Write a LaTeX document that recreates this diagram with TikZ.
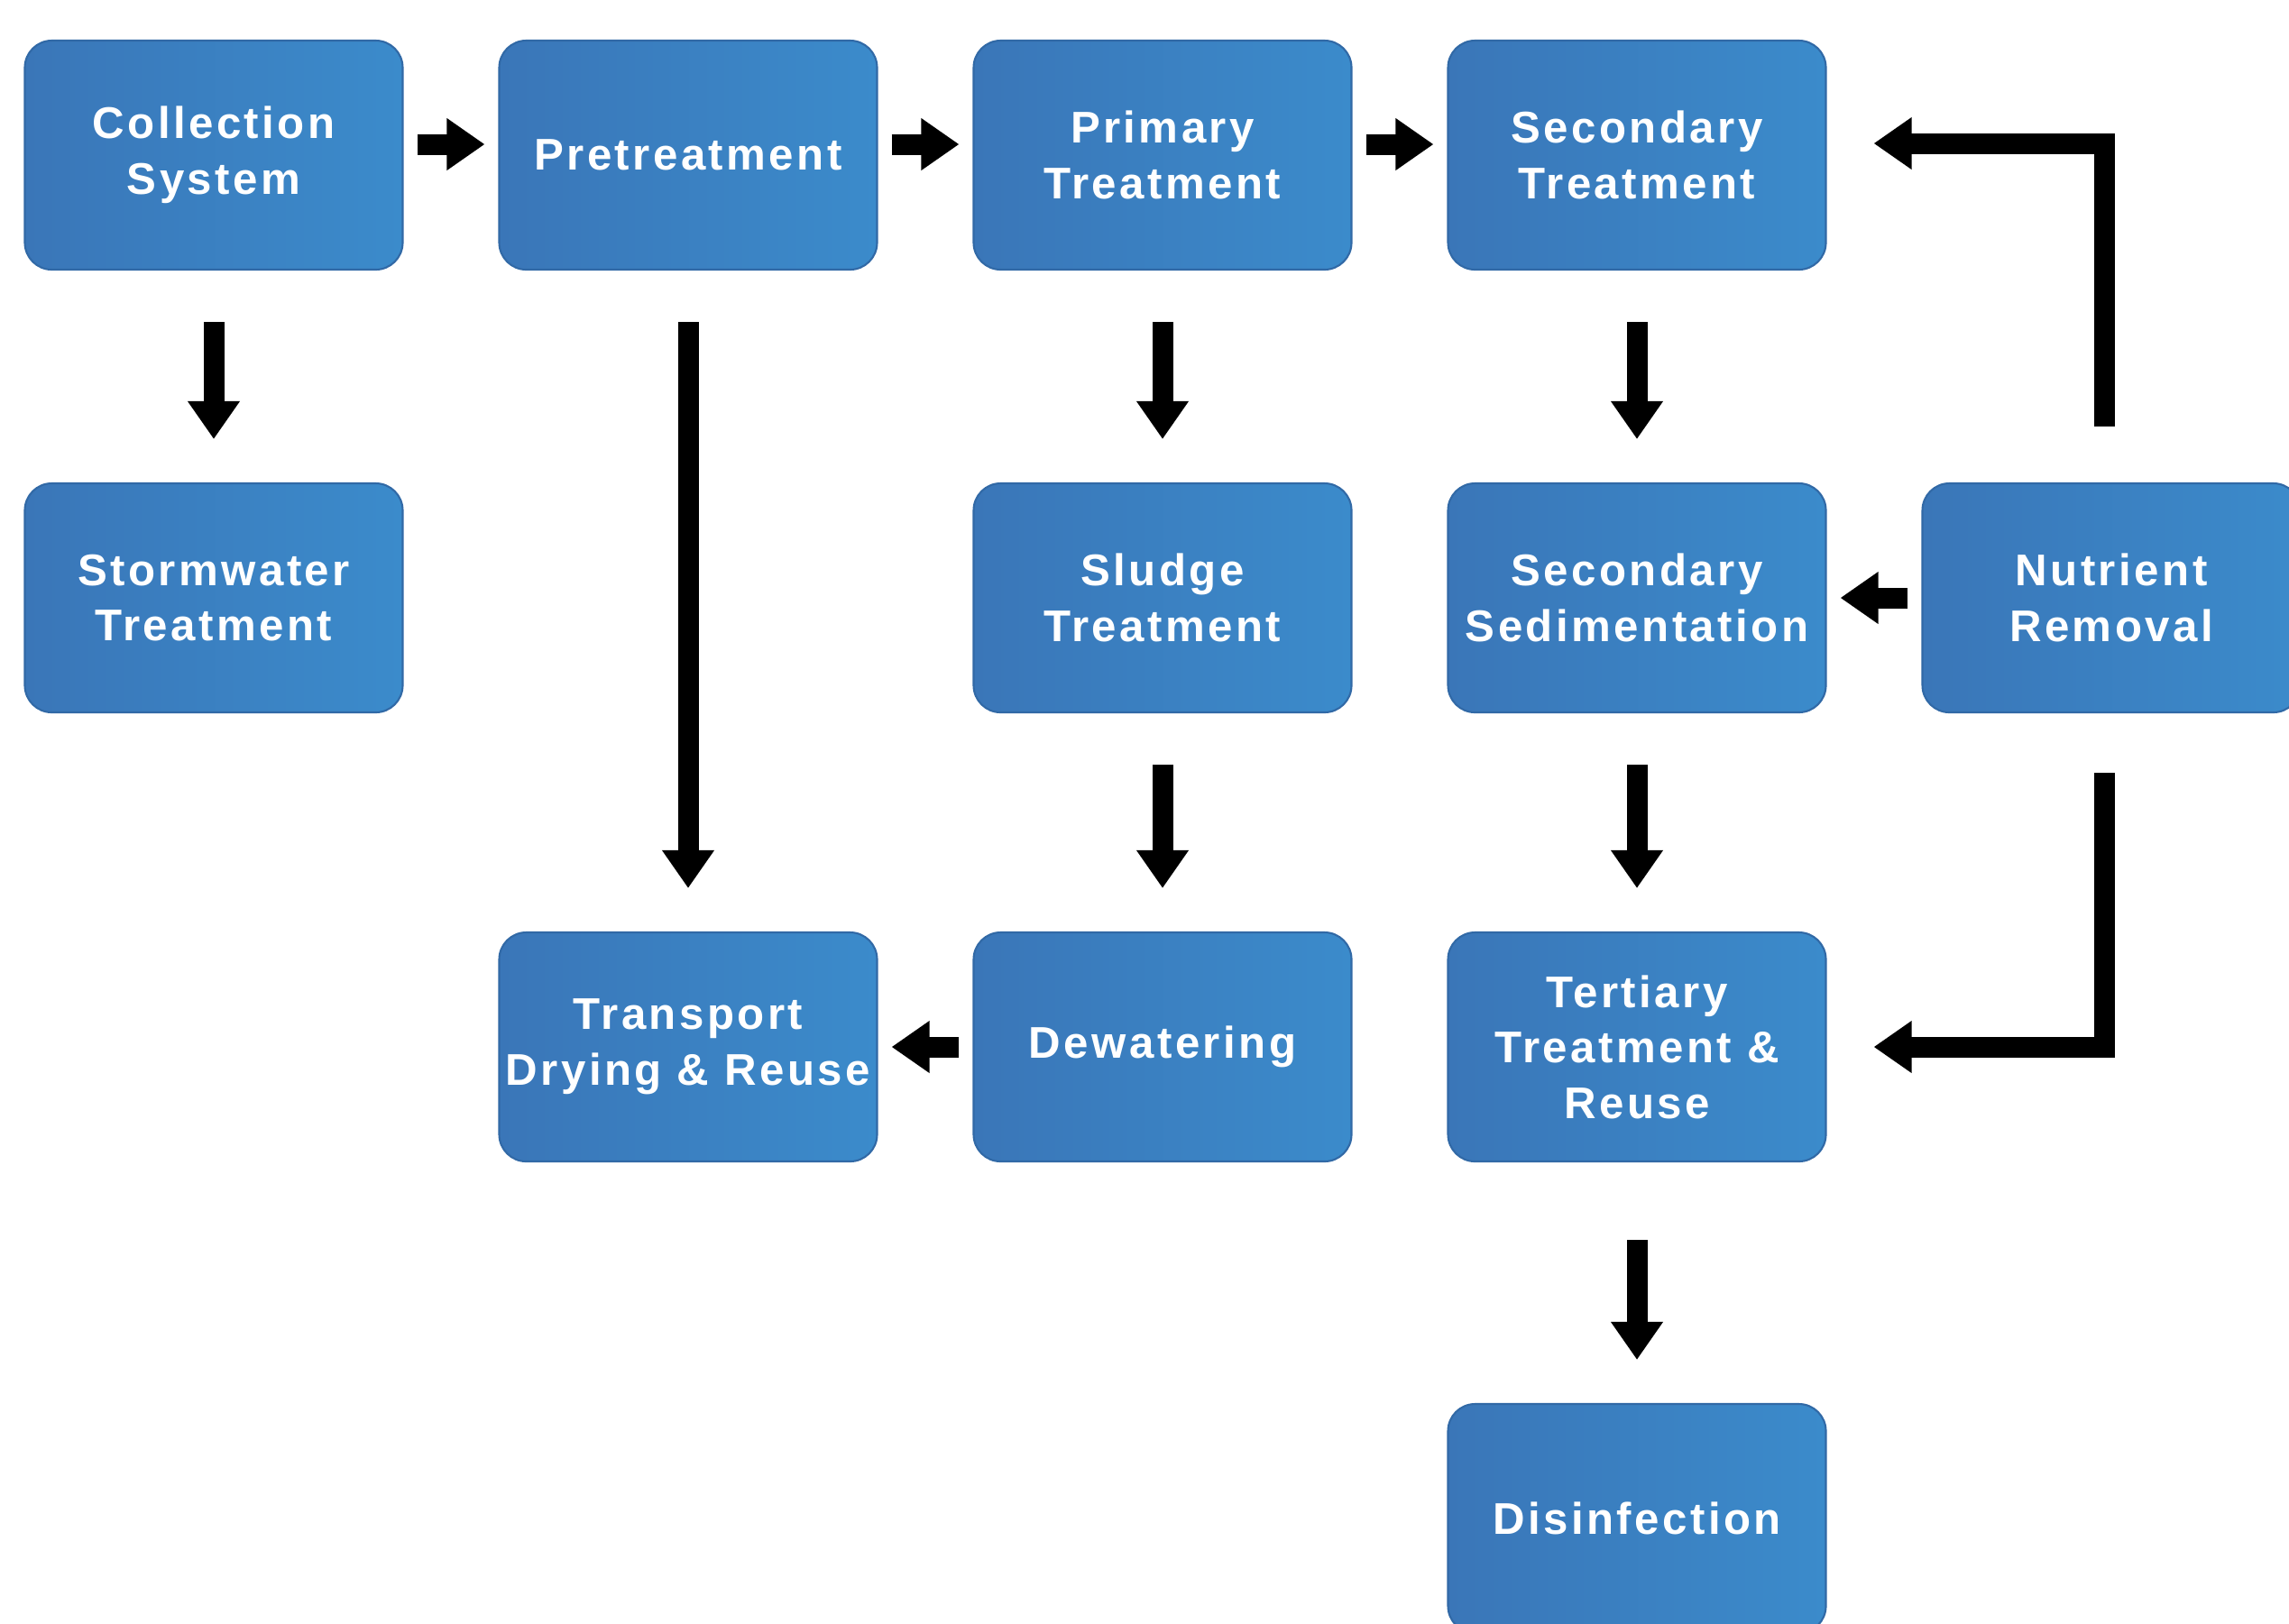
\documentclass[tikz,border=0pt]{standalone}
\usepackage{fontspec}
\newfontfamily\stagefont{Liberation Sans}[LetterSpace=7]
\usetikzlibrary{arrows.meta}
\definecolor{stageleft}{HTML}{3A76B8}
\definecolor{stageright}{HTML}{3B8BCB}
\definecolor{stageedge}{HTML}{3169A6}

\begin{document}
\begin{tikzpicture}[inner sep=0pt,
  stage/.style={rectangle,rounded corners=0.3cm,minimum width=4.19cm,minimum height=2.54cm,
    left color=stageleft,right color=stageright,draw=stageedge,line width=0.6pt,
    text=white,align=center,font={\stagefont\bfseries\fontsize{14}{17.5}\selectfont}},
  flow/.style={line width=0.23cm,-{Triangle[width=0.55cm,length=0.42cm]}},
  vflow/.style={flow,shorten <=0.57cm,shorten >=0.48cm},
  hflow/.style={flow,shorten <=0.15cm,shorten >=0.15cm}]

\useasboundingbox (0,0) rectangle (25.38,-18);
\clip (0,0) rectangle (25.38,-18);

\node[stage] (coll) at (2.37,-1.72) {Collection\\System};
\node[stage] (pre) at (7.63,-1.72) {Pretreatment};
\node[stage] (prim) at (12.89,-1.72) {Primary\\Treatment};
\node[stage] (sec) at (18.15,-1.72) {Secondary\\Treatment};

\node[stage] (storm) at (2.37,-6.63) {Stormwater\\Treatment};
\node[stage] (sludge) at (12.89,-6.63) {Sludge\\Treatment};
\node[stage] (sed) at (18.15,-6.63) {Secondary\\Sedimentation};
\node[stage] (nut) at (23.41,-6.63) {Nutrient\\Removal};

\node[stage] (trans) at (7.63,-11.61) {Transport\\Drying \& Reuse};
\node[stage] (dew) at (12.89,-11.61) {Dewatering};
\node[stage] (tert) at (18.15,-11.61) {Tertiary\\Treatment \&\\Reuse};

\node[stage] (dis) at (18.15,-16.84) {Disinfection};

\draw[hflow] ([yshift=0.12cm]coll.east) -- ([yshift=0.12cm]pre.west);
\draw[hflow] ([yshift=0.12cm]pre.east) -- ([yshift=0.12cm]prim.west);
\draw[hflow] ([yshift=0.12cm]prim.east) -- ([yshift=0.12cm]sec.west);

\draw[vflow] (coll) -- (storm);
\draw[vflow] (pre) -- (trans);
\draw[vflow] (prim) -- (sludge);
\draw[vflow] (sec) -- (sed);
\draw[vflow] (sludge) -- (dew);
\draw[vflow] (sed) -- (tert);
\draw[vflow,shorten <=0.86cm] (tert) -- (dis);

\draw[hflow] (nut) -- (sed);
\draw[hflow] (dew) -- (trans);

\draw[flow] ([xshift=-0.08cm,yshift=0.62cm]nut.north) |- ([xshift=0.52cm,yshift=0.13cm]sec.east);
\draw[flow] ([xshift=-0.08cm,yshift=-0.66cm]nut.south) |- ([xshift=0.52cm]tert.east);

\end{tikzpicture}
\end{document}
